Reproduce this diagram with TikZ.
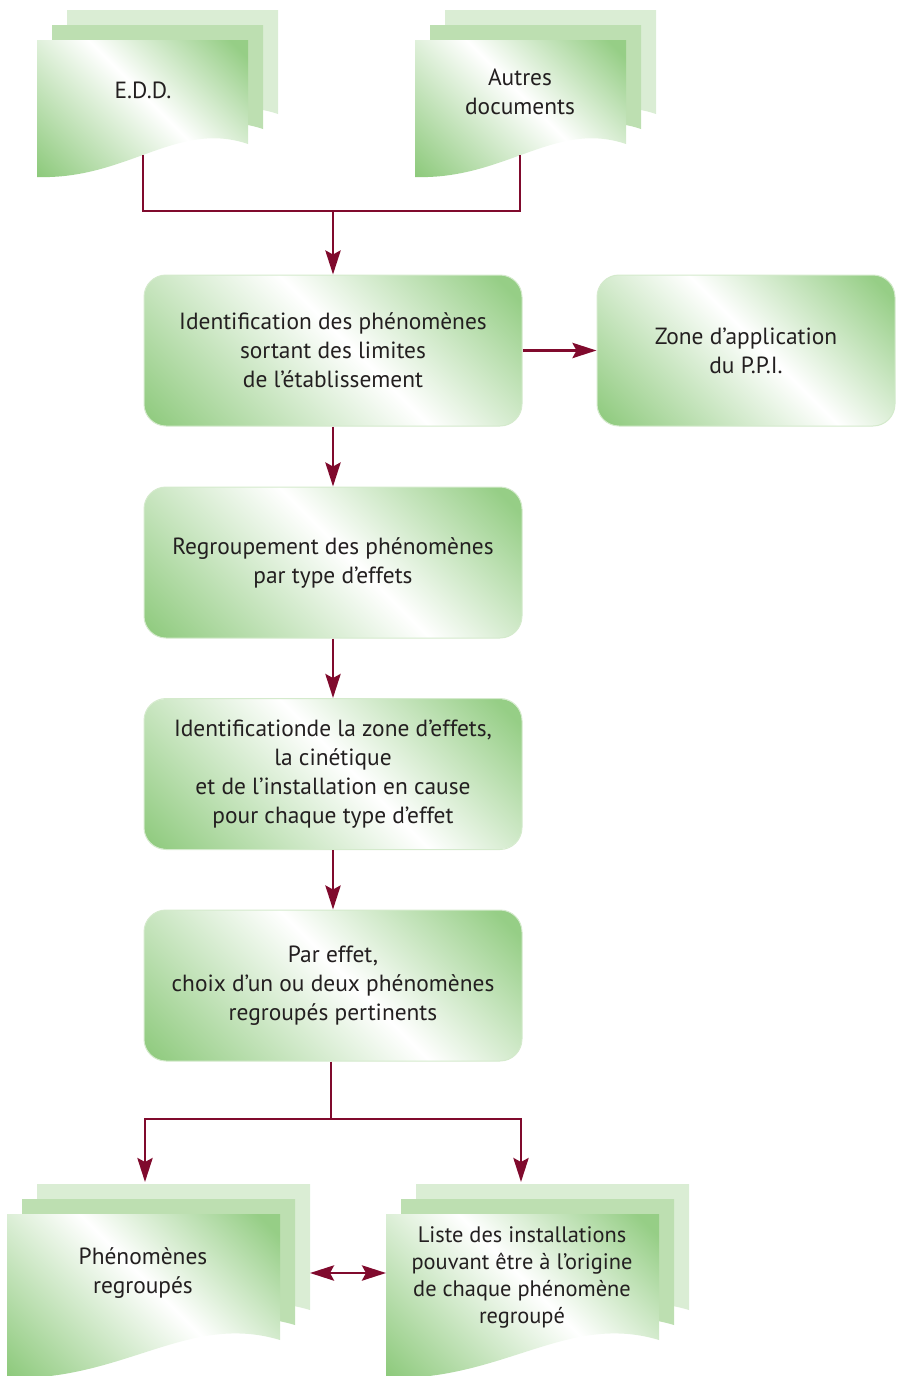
\documentclass[tikz,border=0pt]{standalone}
\usepackage{fontspec}
\setmainfont{PT Sans}
\usetikzlibrary{arrows.meta}

\definecolor{gA}{RGB}{138,200,120}
\definecolor{gB}{RGB}{150,206,134}
\definecolor{pageMid}{RGB}{189,223,177}
\definecolor{pageBack}{RGB}{218,237,212}
\definecolor{rim}{RGB}{212,234,204}
\definecolor{wine}{RGB}{128,10,45}
\definecolor{ink}{RGB}{35,31,32}

% diagonal green -> white -> green glow used on every shape
\pgfdeclarehorizontalshading{greenglow}{100bp}{color(0bp)=(gA); color(25bp)=(gA); color(52bp)=(white); color(72bp)=(gB); color(100bp)=(gB)}

% #1 path, #2/#3 centre, #4 half size of the shaded square
\newcommand{\glowfill}[4]{%
  \begin{scope}
    \clip #1;
    \begin{scope}[transform canvas={rotate around={45:(#2,#3)}}]
      \shade[shading=greenglow] (#2-#4,#3-#4) rectangle (#2+#4,#3+#4);
    \end{scope}
  \end{scope}}

% document page: top-left corner (#1,#2), width #3, left height #4, right height #5
\newcommand{\docpath}[5]{(#1,#2) -- (#1+#3,#2) -- (#1+#3,#2+#5)
  .. controls (#1+0.663*#3,#2+1.73*#5-0.73*#4) and (#1+0.427*#3,#2+1.09*#4-0.09*#5) .. (#1,#2+#4) -- cycle}

% three stacked pages, #6 half size of the shading square
\newcommand{\docstack}[6]{%
  \fill[pageBack] \docpath{#1+30}{#2-30}{#3}{#4}{#5};
  \fill[pageMid] \docpath{#1+15}{#2-15}{#3}{#4}{#5};
  \glowfill{\docpath{#1}{#2}{#3}{#4}{#5}}{#1+#3/2}{#2+#4/2}{#6}}

\tikzset{
  txt/.style={text=ink, font=\fontsize{11.7}{14.5}\selectfont, align=center, inner sep=0pt},
  stepbox/.style={txt, draw=rim, line width=0.5pt, rounded corners=11pt,
    minimum width=189pt, minimum height=75.5pt},
  conn/.style={draw=wine, line width=1.4pt},
  arr/.style={conn, -{Stealth[length=12pt,width=7.6pt,inset=2pt]}},
  darr/.style={conn, {Stealth[length=12pt,width=7.6pt,inset=2pt]}-{Stealth[length=12pt,width=7.6pt,inset=2pt]}}
}

\begin{document}
\begin{tikzpicture}[x=0.5pt, y=-0.5pt]
\useasboundingbox (0,0) rectangle (896,1376);

% document stacks
\docstack{37}{40}{211}{137}{104}{125}
\docstack{415}{40}{211}{137}{104}{125}
\docstack{7}{1214}{273}{164}{126}{157}
\docstack{386}{1214}{273}{164}{126}{157}

% rounded process boxes
\glowfill{[rounded corners=11pt] (144,275) rectangle (522,426)}{333}{350.5}{190}
\glowfill{[rounded corners=11pt] (597,275) rectangle (895,426)}{746}{350.5}{160}
\glowfill{[rounded corners=11pt] (144,487) rectangle (522,638)}{333}{562.5}{190}
\glowfill{[rounded corners=11pt] (144,699) rectangle (522,849)}{333}{774}{190}
\glowfill{[rounded corners=11pt] (144,910) rectangle (522,1061)}{333}{985.5}{190}

\node[stepbox] (b1) at (333,350.5) {Identification des phénomènes\\sortant des limites\\de l’établissement};
\node[stepbox, minimum width=149pt] (ppi) at (746,350.5) {Zone d’application\\du P.P.I.};
\node[stepbox] (b2) at (333,562.5) {Regroupement des phénomènes\\par type d’effets};
\node[stepbox] (b3) at (333,774) {Identificationde la zone d’effets,\\la cinétique\\et de l’installation en cause\\pour chaque type d’effet};
\node[stepbox] (b4) at (333,985.5) {Par effet,\\choix d’un ou deux phénomènes\\regroupés pertinents};

% document captions
\node[txt] (edd) at (143,90) {E.D.D.};
\node[txt] (autres) at (520,91.5) {Autres\\documents};
\node[txt] (phen) at (143,1273) {Phénomènes\\regroupés};
\node[txt, font=\fontsize{11.2}{13.5}\selectfont] (liste) at (522,1277.5) {Liste des installations\\pouvant être à l’origine\\de chaque phénomène\\regroupé};

% connector end points
\coordinate (eddfoot) at (143,155);
\coordinate (autfoot) at (520,155);
\coordinate (topjoin) at (333,211);
\coordinate (botjoin) at (331,1119);
\coordinate (phentop) at (145,1182);
\coordinate (listetop) at (521,1182);
\coordinate (phenright) at (310,1273);
\coordinate (listeleft) at (386,1273);

% connectors
\draw[conn] (eddfoot) |- (topjoin) -| (autfoot);
\draw[arr] (topjoin) -- (b1.north);
\draw[arr] (b1.east) -- (ppi.west);
\draw[arr] (b1.south) -- (b2.north);
\draw[arr] (b2.south) -- (b3.north);
\draw[arr] (b3.south) -- (b4.north);
\draw[conn] (botjoin |- b4.south) -- (botjoin);
\draw[arr] (botjoin) -| (phentop);
\draw[arr] (botjoin) -| (listetop);
\draw[darr] (phenright) -- (listeleft);
\end{tikzpicture}
\end{document}
